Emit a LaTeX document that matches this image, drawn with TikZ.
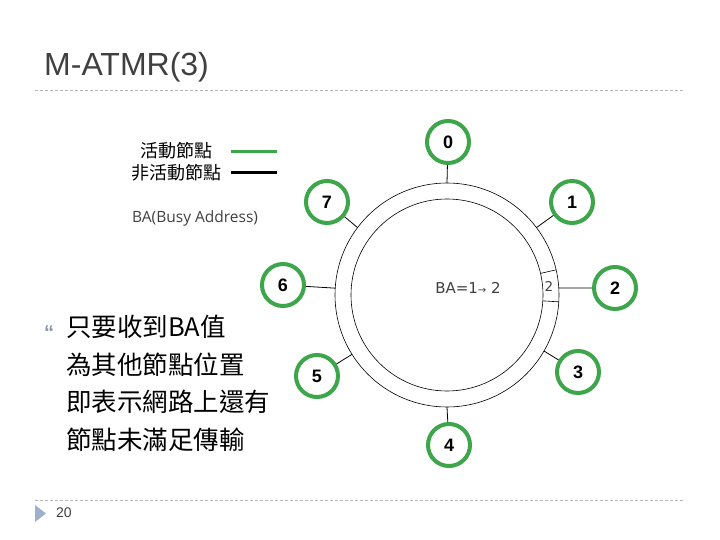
\documentclass[tikz,border=0pt]{standalone}
\usepackage{fontspec}
\setmainfont{Liberation Sans}
\newfontfamily\cjkfont{Noto Sans CJK TC}
\newfontfamily\dvfont{DejaVu Sans}
\newfontfamily\opfont{Open Sans}
\definecolor{nodegreen}{HTML}{3DA64B}
\definecolor{titlegray}{HTML}{404040}
\definecolor{rulegray}{HTML}{B4B4B4}
\definecolor{bluegray}{HTML}{9DB0CC}
\definecolor{bulgray}{HTML}{8A94A8}
\tikzset{
  x=1pt, y=-1pt,
  ringnode/.style={circle, draw=nodegreen, line width=4pt, minimum size=42pt, inner sep=0pt, font=\fontsize{18}{18}\selectfont\bfseries},
  spoke/.style={line width=0.8pt},
  ringline/.style={line width=0.6pt},
  sepline/.style={rulegray, line width=0.7pt, dash pattern=on 3pt off 2pt},
}
\begin{document}
\begin{tikzpicture}
\useasboundingbox[fill=white] (0,0) rectangle (720,540);
% title
\node[anchor=west, text=titlegray, font=\fontsize{32}{32}\selectfont, inner sep=0pt] (title) at (44,67) {M-ATMR(3)};
\draw[sepline] (35,90) -- (685,90);
\draw[sepline] (35,500) -- (685,500);
% footer
\fill[bluegray] (35,505) -- (46,513.5) -- (35,522) -- cycle;
\node[anchor=west, text=titlegray, font=\fontsize{14}{14}\selectfont, inner sep=0pt] (pagenum) at (56,513) {20};
% legend
\node[anchor=center, font=\cjkfont\fontsize{18}{18}\selectfont, inner sep=0pt] (lgact) at (176,151) {活動節點};
\node[anchor=center, font=\cjkfont\fontsize{18}{18}\selectfont, inner sep=0pt] (lginact) at (176,173) {非活動節點};
\coordinate (ga) at (231,152); \coordinate (gb) at (277,152);
\coordinate (ka) at (231,173); \coordinate (kb) at (277,173);
\draw[nodegreen, line width=3pt] (ga) -- (gb);
\draw[black, line width=3pt] (ka) -- (kb);
\node[anchor=west, font=\opfont\fontsize{15.5}{15.5}\selectfont, text=titlegray, inner sep=0pt] (lgba) at (132,218) {BA(Busy Address)};
% bullet text
\node[anchor=center, text=bulgray, font=\bfseries\fontsize{20}{20}\selectfont, inner sep=0pt] (bullet) at (49,333) {“};
\node[anchor=north west, align=left, font=\cjkfont\fontsize{25.5}{37.5}\selectfont, inner sep=0pt] (btext) at (66,315)
  {只要收到BA值\\為其他節點位置\\即表示網路上還有\\節點未滿足傳輸};
% ring
\coordinate (c) at (447,295);
\draw[ringline] (c) circle[radius=112];
\draw[ringline] (c) circle[radius=96];
\draw[ringline] ([shift={(447,295)}]-13:96) -- ([shift={(447,295)}]-13:112);
\draw[ringline] ([shift={(447,295)}]3.5:96) -- ([shift={(447,295)}]3.5:112);
\node[text=titlegray, font=\dvfont\fontsize{13.5}{13.5}\selectfont] (seg) at (549,286.5) {2};
\node[text=titlegray, font=\dvfont\fontsize{15}{15}\selectfont] (ba) at (468,288) {BA=1{\fontsize{10}{10}\selectfont→} 2};
% nodes
\node[ringnode] (n0) at (448,142) {0};
\node[ringnode] (n1) at (572,202) {1};
\node[ringnode] (n2) at (615,288) {2};
\node[ringnode] (n3) at (578,372) {3};
\node[ringnode] (n4) at (449,445) {4};
\node[ringnode] (n5) at (317,376) {5};
\node[ringnode] (n6) at (283,285) {6};
\node[ringnode] (n7) at (327,202) {7};
% ring attach points
\coordinate (r0) at ([shift={(447,295)}]-90:112);
\coordinate (r1) at ([shift={(447,295)}]-37:112);
\coordinate (r2) at ([shift={(447,295)}]-3.6:112);
\coordinate (r3) at ([shift={(447,295)}]30:112);
\coordinate (r4) at ([shift={(447,295)}]90:112);
\coordinate (r5) at ([shift={(447,295)}]148:112);
\coordinate (r6) at ([shift={(447,295)}]183.5:112);
\coordinate (r7) at ([shift={(447,295)}]217:112);
\foreach \i in {0,...,7} {\draw[spoke] (n\i) -- (r\i);}
\end{tikzpicture}
\end{document}
